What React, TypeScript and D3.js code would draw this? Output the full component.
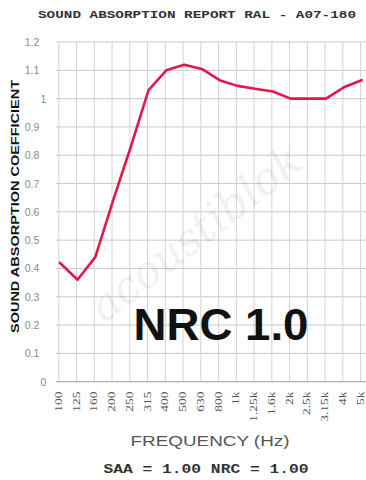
import React from "react";
import * as d3 from "d3";

const categories = ["100","125","160","200","250","315","400","500","630","800","1k","1.25k","1.6k","2k","2.5k","3.15k","4k","5k"];
const values = [0.42,0.36,0.44,0.64,0.83,1.03,1.10,1.12,1.105,1.065,1.045,1.035,1.025,1.0,1.0,1.0,1.04,1.065];
const yTicks = [0,0.1,0.2,0.3,0.4,0.5,0.6,0.7,0.8,0.9,1,1.1,1.2];
const yTickLabels = ["0","0.1","0.2","0.3","0.4","0.5","0.6","0.7","0.8","0.9","1","1.1","1.2"];
const title = "SOUND ABSORPTION REPORT RAL - A07-180";
const yTitle = "SOUND ABSORPTION COEFFICIENT";
const xTitle = "FREQUENCY (Hz)";
const footer = "SAA = 1.00  NRC = 1.00";
const badge = "NRC 1.0";

export default function App() {
  const W = 366, H = 480;
  const plotLeft = 56, plotRight = 366, plotTop = 42, plotBottom = 381.7;
  const x = d3.scalePoint<string>().domain(categories).range([59.8, 361.6]);
  const y = d3.scaleLinear().domain([0, 1.2]).range([plotBottom, plotTop]);
  const line = d3.line<number>()
    .x((_, i) => x(categories[i]) as number)
    .y((d) => y(d))
    .curve(d3.curveLinear);

  return (
    <svg width={W} height={H} style={{ position: "absolute", left: 0, top: 0, background: "#fff" }}>
      <rect x={0} y={0} width={W} height={H} fill="#fff" />
      <text x={197} y={17.5} textAnchor="middle" fontFamily="'Liberation Mono', monospace" fontWeight="bold"
        fontSize={11} fill="#333" textLength={318} lengthAdjust="spacingAndGlyphs">{title}</text>

      {yTicks.map((t) => (
        <line key={"h" + t} x1={plotLeft} x2={plotRight} y1={y(t)} y2={y(t)} stroke="#c9c9c9" strokeWidth={1} />
      ))}
      {categories.map((c) => (
        <line key={"v" + c} x1={(x(c) as number) - 1} x2={(x(c) as number) - 1} y1={plotTop} y2={plotBottom}
          stroke="#d2d2d2" strokeWidth={1} />
      ))}
      <line x1={plotLeft} x2={plotRight} y1={plotBottom} y2={plotBottom} stroke="#aaa" strokeWidth={1} />

      <text x={0} y={0} transform="translate(205,245) rotate(-38)" textAnchor="middle"
        fontFamily="'DejaVu Serif', serif" fontStyle="italic" fontSize={44} fill="#000" opacity={0.05}>acoustiblok</text>

      {yTicks.map((t, i) => (
        <text key={"yl" + t} x={Number.isInteger(t) ? 43.5 : 32} y={y(t) + 4} textAnchor="middle"
          fontFamily="'Liberation Sans', Arial, sans-serif" fontSize={10.5} fill="#8a8a8a">{yTickLabels[i]}</text>
      ))}

      {categories.map((c) => (
        <text key={"xl" + c} transform={`translate(${(x(c) as number) + 2},391.5) scale(0.72,1) rotate(-90)`}
          textAnchor="end" fontFamily="'Liberation Serif', serif" fontSize={13.5} fill="#555">{c}</text>
      ))}

      <path d={line(values) || ""} fill="none" stroke="#e2184c" strokeWidth={2.6} strokeLinejoin="round" strokeLinecap="round" />

      <text x={221} y={340} textAnchor="middle" fontFamily="'Liberation Sans', Arial, sans-serif" fontWeight="bold"
        fontSize={44} fill="#111" textLength={175} lengthAdjust="spacingAndGlyphs">{badge}</text>

      <text transform="translate(18.5,206.5) rotate(-90)" textAnchor="middle" fontFamily="'Liberation Sans', Arial, sans-serif"
        fontWeight="bold" fontSize={11} fill="#111" textLength={253} lengthAdjust="spacingAndGlyphs">{yTitle}</text>

      <text x={210} y={445.5} textAnchor="middle" fontFamily="'Liberation Sans', Arial, sans-serif" fontSize={14}
        fill="#555" textLength={159} lengthAdjust="spacingAndGlyphs">{xTitle}</text>

      <text x={206} y={473} textAnchor="middle" fontFamily="'Liberation Mono', monospace" fontWeight="bold" fontSize={12}
        fill="#333" textLength={205} lengthAdjust="spacingAndGlyphs">{footer}</text>
    </svg>
  );
}
